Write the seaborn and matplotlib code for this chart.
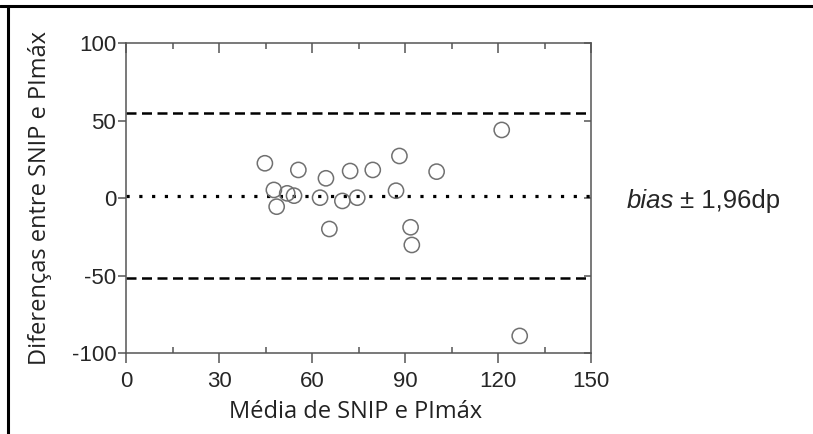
import matplotlib
matplotlib.use("Agg")
import matplotlib.pyplot as plt
from matplotlib.lines import Line2D
import numpy as np
import pandas as pd
import seaborn as sns

# ---- data ----
mean_vals = [44.8, 55.6, 64.5, 72.3, 79.6, 47.7, 48.6, 52.0, 54.2, 62.6,
             69.8, 74.6, 65.6, 88.2, 100.2, 87.1, 91.8, 92.2, 121.2, 127.0]
diff_vals = [22.6, 18.3, 12.9, 17.6, 18.3, 5.4, -5.4, 3.2, 1.7, 0.4,
             -1.7, 0.4, -19.8, 27.3, 17.2, 4.9, -18.7, -30.1, 44.1, -88.8]
bias = 1.6
upper_loa = 54.8
lower_loa = -51.6
x_ticks = [0, 30, 60, 90, 120, 150]
y_ticks = [-100, -50, 0, 50, 100]
x_label = "Média de SNIP e PImáx"
y_label = "Diferenças entre SNIP e PImáx"

df = pd.DataFrame({"media": mean_vals, "diferenca": diff_vals})

sns.set_style("ticks")
plt.rcParams["font.family"] = ["Liberation Sans", "DejaVu Sans"]
plt.rcParams["axes.unicode_minus"] = False

W, H = 813, 434
fig = plt.figure(figsize=(W / 100, H / 100), dpi=100)
ax = fig.add_axes([126 / W, 1 - 353.3 / H, (591 - 126) / W, (353.3 - 43.3) / H])

ax.axhline(upper_loa, color="black", lw=1.8, linestyle=(0, (4, 2.2)), zorder=1)
ax.axhline(lower_loa, color="black", lw=1.8, linestyle=(0, (4, 2.2)), zorder=1)
ax.axhline(bias, color="black", lw=2.3, linestyle=(0, (1, 3.0)), zorder=1)

sns.scatterplot(data=df, x="media", y="diferenca", ax=ax, s=120,
                facecolor="none", edgecolor="#707070", linewidth=1.1, zorder=3)

ax.set_xlim(0, 150)
ax.set_ylim(-100, 100)
ax.set_xticks(x_ticks)
ax.set_yticks(y_ticks)
ax.set_xticks(np.array(x_ticks[:-1]) + 15, minor=True)

for sp in ax.spines.values():
    sp.set_visible(True)
    sp.set_color("#555555")
    sp.set_linewidth(1.1)

ax.tick_params(axis="x", which="major", direction="out", length=7, width=1.1,
               color="#555555", labelsize=16, pad=6, top=False, bottom=True)
ax.tick_params(axis="x", which="minor", direction="in", length=4, width=1.1,
               color="#555555", top=True, bottom=True)
ax.tick_params(axis="y", which="major", direction="out", length=6, width=1.1,
               color="#555555", labelsize=16, pad=1, right=False)

# inward ticks on top / right
secx = ax.secondary_xaxis("top")
secx.set_xticks(x_ticks)
secx.tick_params(direction="in", length=7, width=1.1, color="#555555", labeltop=False)
secx.spines["top"].set_visible(False)
secy = ax.secondary_yaxis("right")
secy.set_yticks(y_ticks)
secy.tick_params(direction="in", length=5, width=1.1, color="#555555", labelright=False)
secy.spines["right"].set_visible(False)

lab_font = ["Open Sans", "DejaVu Sans"]
ax.set_xlabel(x_label, family=lab_font, fontsize=17, color="#222222")
ax.set_ylabel(y_label, family=lab_font, fontsize=17, color="#222222")
ax.xaxis.set_label_coords((356 - 126) / 465, -(412 - 353.3) / 310)
ax.yaxis.set_label_coords(-(126 - 40) / 465, (353.3 - 198) / 310)
ax.xaxis.label.set_va("center")
ax.yaxis.label.set_va("center")

t = fig.text(627 / W, 1 - 201 / H, "bias", fontsize=18.5, style="italic",
             va="center", ha="left")
fig.canvas.draw()
bb = t.get_window_extent()
fig.text((bb.x1 + 6) / W, 1 - 201 / H, "± 1,96dp", fontsize=18.5,
         va="center", ha="left")

# figure frame (top and left)
fig.add_artist(Line2D([0, 1], [1 - 6 / H] * 2, transform=fig.transFigure,
                      color="black", lw=2.2))
fig.add_artist(Line2D([7.5 / W] * 2, [0, 1 - 6 / H], transform=fig.transFigure,
                      color="black", lw=2.2))

fig.savefig("out.png", dpi=100)
